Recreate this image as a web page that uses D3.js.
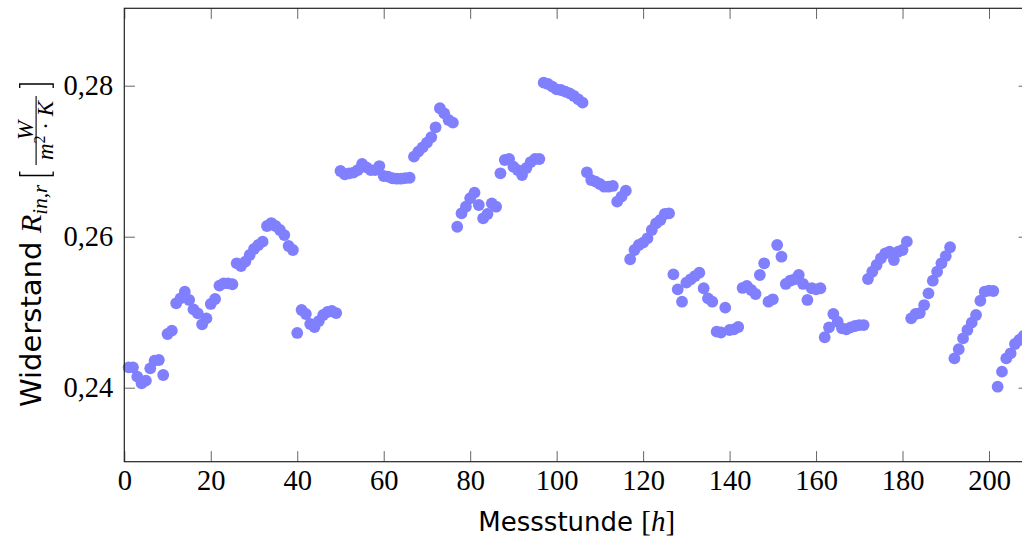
<!DOCTYPE html>
<html>
<head>
<meta charset="utf-8">
<script src="https://cdn.jsdelivr.net/npm/d3@7"></script>
<style>
  html, body { margin: 0; padding: 0; background: #fff; }
  svg { display: block; }
</style>
</head>
<body>
<svg id="chart" width="1022" height="542"></svg>
<script>
// ---- data ----
const resistance = [
  0.24270, 0.24270, 0.24146, 0.24058, 0.24093, 0.24257, 0.24358, 0.24367, 0.24168, 0.24711,
  0.24755, 0.25118, 0.25184, 0.25272, 0.25162, 0.25038, 0.24985, 0.24840, 0.24919, 0.25109,
  0.25175, 0.25351, 0.25383, 0.25383, 0.25370, 0.25648, 0.25612, 0.25669, 0.25758, 0.25837,
  0.25890, 0.25934, 0.26142, 0.26181, 0.26142, 0.26089, 0.26022, 0.25877, 0.25824, 0.24725,
  0.25029, 0.24976, 0.24844, 0.24804, 0.24883, 0.24963, 0.25003, 0.25016, 0.24989, 0.26870,
  0.26827, 0.26840, 0.26848, 0.26883, 0.26963, 0.26919, 0.26883, 0.26883, 0.26936, 0.26804,
  0.26795, 0.26774, 0.26768, 0.26768, 0.26777, 0.26781, 0.27060, 0.27126, 0.27184, 0.27245,
  0.27317, 0.27449, 0.27701, 0.27634, 0.27546, 0.27510, 0.26132, 0.26310, 0.26397, 0.26509,
  0.26583, 0.26420, 0.26244, 0.26301, 0.26442, 0.26397, 0.26840, 0.27016, 0.27029, 0.26927,
  0.26883, 0.26817, 0.26910, 0.26989, 0.27029, 0.27029, 0.28040, 0.28023, 0.27987, 0.27952,
  0.27943, 0.27921, 0.27899, 0.27864, 0.27820, 0.27775, 0.26853, 0.26751, 0.26729, 0.26698,
  0.26662, 0.26662, 0.26672, 0.26464, 0.26530, 0.26609, 0.25701, 0.25824, 0.25890, 0.25921,
  0.25979, 0.26089, 0.26177, 0.26221, 0.26301, 0.26310, 0.25502, 0.25303, 0.25139, 0.25391,
  0.25436, 0.25479, 0.25523, 0.25317, 0.25184, 0.25139, 0.24742, 0.24731, 0.25060, 0.24764,
  0.24773, 0.24804, 0.25321, 0.25347, 0.25294, 0.25241, 0.25493, 0.25648, 0.25139, 0.25171,
  0.25890, 0.25735, 0.25374, 0.25417, 0.25436, 0.25493, 0.25374, 0.25162, 0.25317, 0.25303,
  0.25317, 0.24668, 0.24800, 0.24976, 0.24874, 0.24787, 0.24773, 0.24800, 0.24817, 0.24830,
  0.24830, 0.25440, 0.25536, 0.25625, 0.25714, 0.25780, 0.25801, 0.25691, 0.25801, 0.25824,
  0.25934, 0.24919, 0.24976, 0.24989, 0.25095, 0.25250, 0.25417, 0.25536, 0.25648, 0.25744,
  0.25860, 0.24389, 0.24509, 0.24654, 0.24764, 0.24861, 0.24963, 0.25152, 0.25272, 0.25285,
  0.25281, 0.24013, 0.24212, 0.24389, 0.24456, 0.24579, 0.24632, 0.24685
];
// measurement hour index (1, 2, 3, ...) for each value
const hours = resistance.map((_, i) => i + 1);

const xTicks = [0, 20, 40, 60, 80, 100, 120, 140, 160, 180, 200];
const yTicks = [0.24, 0.26, 0.28];
const yTickLabels = ["0,24", "0,26", "0,28"];
const xDomain = [0, 209.3];
const yDomain = [0.2302, 0.29025];

// ---- layout ----
const svg = d3.select("#chart");
const L = 124.3, T = 8.3, B = 461.7;
const R = L + (xDomain[1] - xDomain[0]) * 4.3235;
const x = d3.scaleLinear().domain(xDomain).range([L, R]);
const y = d3.scaleLinear().domain(yDomain).range([B, T]);
const TICK = 10.6;

const serif = "'Liberation Serif', 'Times New Roman', serif";
const sans = "'DejaVu Sans', sans-serif";

// points
svg.append("g")
  .selectAll("circle")
  .data(hours)
  .join("circle")
  .attr("cx", (h) => x(h))
  .attr("cy", (h, i) => y(resistance[i]))
  .attr("r", 5.9)
  .attr("fill", "#8080ff");

function styleAxis(g) {
  g.select(".domain").remove();
  g.selectAll(".tick line").attr("stroke", "#666").attr("stroke-width", 1);
  g.selectAll(".tick text")
    .attr("fill", "#000")
    .style("font-family", serif)
    .style("font-size", "28.5px");
}

// bottom axis
svg.append("g")
  .attr("transform", `translate(0,${B})`)
  .call(d3.axisBottom(x).tickValues(xTicks).tickSize(-TICK).tickPadding(8.5).tickFormat(d3.format("d")))
  .call(styleAxis);
// top axis (ticks only)
svg.append("g")
  .attr("transform", `translate(0,${T})`)
  .call(d3.axisTop(x).tickValues(xTicks).tickSize(-TICK).tickFormat(""))
  .call(styleAxis);
// left axis
svg.append("g")
  .attr("transform", `translate(${L},0)`)
  .call(d3.axisLeft(y).tickValues(yTicks).tickSize(-TICK).tickPadding(11)
        .tickFormat((d, i) => yTickLabels[i]))
  .call(styleAxis)
  .selectAll(".tick text").attr("dy", "0.30em");
// right axis (ticks only)
svg.append("g")
  .attr("transform", `translate(${R},0)`)
  .call(d3.axisRight(y).tickValues(yTicks).tickSize(-TICK).tickFormat(""))
  .call(styleAxis);

// frame
svg.append("rect")
  .attr("x", L).attr("y", T)
  .attr("width", R - L).attr("height", B - T)
  .attr("fill", "none").attr("stroke", "#222").attr("stroke-width", 1.2);

// x axis title
const xt = svg.append("text")
  .attr("x", (L + R) / 2).attr("y", 531)
  .attr("text-anchor", "middle")
  .attr("fill", "#000");
xt.append("tspan").style("font-family", sans).style("font-size", "26px").text("Messstunde ");
xt.append("tspan").style("font-family", serif).style("font-size", "29px").text("[");
xt.append("tspan").style("font-family", serif).style("font-size", "29px").style("font-style", "italic").text("h");
xt.append("tspan").style("font-family", serif).style("font-size", "29px").text("]");

// y axis title (rotated); group x' = -screenY, y' = screenX - 40.7
const yl = svg.append("g").attr("transform", "translate(40.7,0) rotate(-90)");
yl.append("text").attr("x", -407).attr("y", 0)
  .style("font-family", sans).style("font-size", "29px").attr("fill", "#000")
  .text("Widerstand");
const rt = yl.append("text").attr("x", -233).attr("y", 0).attr("fill", "#000")
  .style("font-family", serif);
rt.append("tspan").style("font-size", "30px").style("font-style", "italic").text("R");
rt.append("tspan").attr("dy", 6).style("font-size", "21px").style("font-style", "italic").text("in,r");
// brackets
yl.append("path").attr("d", "M -171.5,-21 H -175.5 V 12.5 H -171.5")
  .attr("fill", "none").attr("stroke", "#000").attr("stroke-width", 1.3);
yl.append("path").attr("d", "M -88,-21 H -84 V 12.5 H -88")
  .attr("fill", "none").attr("stroke", "#000").attr("stroke-width", 1.3);
// fraction W / (m^2 · K)
yl.append("line").attr("x1", -165).attr("x2", -96).attr("y1", -4.6).attr("y2", -4.6)
  .attr("stroke", "#000").attr("stroke-width", 1.1);
yl.append("text").attr("x", -130.5).attr("y", -7.5).attr("text-anchor", "middle")
  .style("font-family", serif).style("font-size", "23px").style("font-style", "italic")
  .attr("fill", "#000").text("W");
const den = yl.append("text").attr("x", -130.5).attr("y", 12).attr("text-anchor", "middle")
  .style("font-family", serif).style("font-size", "23px").attr("fill", "#000")
  .attr("xml:space", "preserve").style("white-space", "pre");
den.append("tspan").style("font-style", "italic").text("m");
den.append("tspan").attr("dy", -8).style("font-size", "16px").text("2");
den.append("tspan").attr("dy", 8).text(" · ");
den.append("tspan").style("font-style", "italic").text("K");
</script>
</body>
</html>
